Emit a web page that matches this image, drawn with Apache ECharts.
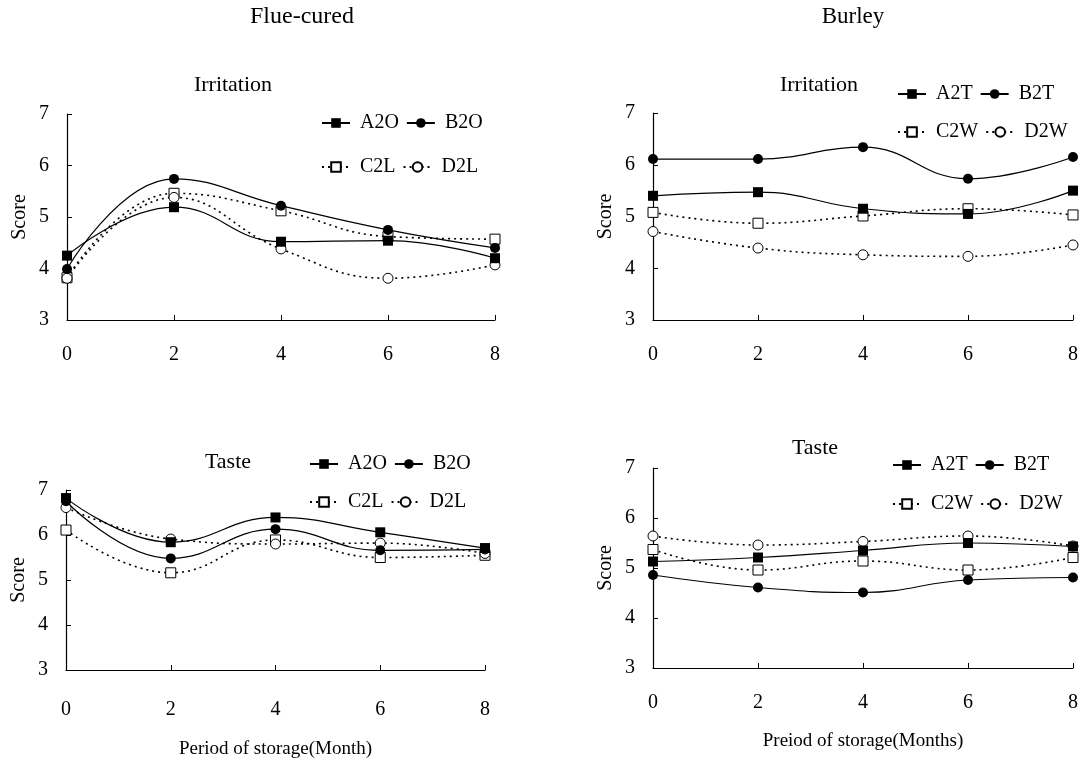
<!DOCTYPE html>
<html>
<head>
<meta charset="utf-8">
<script src="https://cdn.jsdelivr.net/npm/echarts@6/dist/echarts.min.js"></script>
<style>
  html, body { margin: 0; padding: 0; background: #fff; }
  #chart { width: 1090px; height: 760px; }
</style>
</head>
<body>
<div id="chart"></div>
<script>
const months = [0, 2, 4, 6, 8];

// Flue-cured, irritation
const flueIrrA2O = [4.25, 5.19, 4.52, 4.54, 4.2];
const flueIrrB2O = [3.99, 5.74, 5.22, 4.75, 4.4];
const flueIrrC2L = [3.82, 5.46, 5.12, 4.62, 4.57];
const flueIrrD2L = [3.81, 5.38, 4.38, 3.81, 4.07];
// Burley, irritation
const burIrrA2T = [5.4, 5.47, 5.15, 5.05, 5.5];
const burIrrB2T = [6.11, 6.11, 6.34, 5.73, 6.15];
const burIrrC2W = [5.08, 4.87, 5.01, 5.15, 5.03];
const burIrrD2W = [4.71, 4.39, 4.26, 4.23, 4.45];
// Flue-cured, taste
const flueTasteA2O = [6.82, 5.84, 6.39, 6.06, 5.71];
const flueTasteB2O = [6.75, 5.48, 6.13, 5.66, 5.68];
const flueTasteC2L = [6.11, 5.16, 5.89, 5.5, 5.55];
const flueTasteD2L = [6.61, 5.91, 5.8, 5.82, 5.59];
// Burley, taste
const burTasteA2T = [5.13, 5.21, 5.35, 5.5, 5.43];
const burTasteB2T = [4.86, 4.61, 4.51, 4.76, 4.81];
const burTasteC2W = [5.37, 4.96, 5.14, 4.96, 5.21];
const burTasteD2W = [5.64, 5.46, 5.53, 5.64, 5.44];

const font = "'Liberation Serif', 'Times New Roman', serif";

function pairs(vals) {
  return months.map((m, i) => [m, vals[i]]);
}

// solid lines for A/B, dotted for C/D; filled vs open markers
function mk(name, vals, idx, kind) {
  const solid = kind === "fillRect" || kind === "fillCircle";
  return {
    name: name,
    type: "line",
    xAxisIndex: idx,
    yAxisIndex: idx,
    data: pairs(vals),
    smooth: 0.45,
    symbol: kind === "fillRect" || kind === "openRect" ? "rect" : "circle",
    symbolSize: 10,
    showAllSymbol: true,
    lineStyle: { color: "#000", width: solid ? 1.2 : 1.6, type: solid ? "solid" : [2, 4] },
    itemStyle: solid
      ? { color: "#000" }
      : { color: "#fff", borderColor: "#000", borderWidth: 1 },
    emphasis: { disabled: true },
    z: solid ? 3 : 2,
  };
}

const grids = [
  { left: 67, top: 114, width: 428, height: 206 },
  { left: 653, top: 113, width: 420, height: 207 },
  { left: 66, top: 490, width: 419, height: 186 },
  { left: 653, top: 468, width: 420, height: 200 },
];
const xLabelMargin = [25, 25, 30, 25];
const xNames = ["", "", "Period of storage(Month)", "Preiod of storage(Months)"];
const xNameGap = [70, 70, 70, 64];

function xAxis(i) {
  return {
    type: "value",
    gridIndex: i,
    min: 0,
    max: 8,
    interval: 2,
    name: xNames[i],
    nameLocation: "middle",
    nameGap: xNameGap[i],
    nameTextStyle: { color: "#000", fontFamily: font, fontSize: 19 },
    axisLine: { show: true, lineStyle: { color: "#000", width: 1.2 } },
    axisTick: { show: true, inside: true, length: 5, lineStyle: { color: "#000" } },
    axisLabel: { color: "#000", fontFamily: font, fontSize: 20, margin: xLabelMargin[i] },
    splitLine: { show: false },
  };
}

function yAxis(i) {
  return {
    type: "value",
    gridIndex: i,
    min: 3,
    max: 7,
    interval: 1,
    name: "Score",
    nameLocation: "middle",
    nameGap: 37,
    nameTextStyle: { color: "#000", fontFamily: font, fontSize: 20 },
    axisLine: { show: true, lineStyle: { color: "#000", width: 1.2 } },
    axisTick: { show: true, inside: true, length: 5, lineStyle: { color: "#000" } },
    axisLabel: { color: "#000", fontFamily: font, fontSize: 20, margin: 18 },
    splitLine: { show: false },
  };
}

function legend(names, left, top) {
  return {
    data: names,
    left: left,
    top: top,
    orient: "horizontal",
    padding: 0,
    itemWidth: 28,
    itemHeight: 12,
    itemGap: 7,
    selectedMode: false,
    textStyle: { color: "#000", fontFamily: font, fontSize: 20, padding: [0, 0, 0, 5] },
  };
}

function title(text, left, top, size) {
  return {
    text: text,
    left: left,
    top: top,
    textAlign: "center",
    padding: 0,
    textStyle: { color: "#000", fontFamily: font, fontSize: size, fontWeight: "normal" },
  };
}

const chart = echarts.init(document.getElementById("chart"));
chart.setOption({
  backgroundColor: "#fff",
  animation: false,
  title: [
    title("Flue-cured", 302, 5, 24),
    title("Burley", 853, 5, 23),
    title("Irritation", 233, 74, 22),
    title("Irritation", 819, 74, 22),
    title("Taste", 228, 451, 22),
    title("Taste", 815, 437, 22),
  ],
  legend: [
    legend(["A2O", "B2O"], 321, 113),
    legend(["C2L", "D2L"], 321, 157),
    legend(["A2T", "B2T"], 897, 84),
    legend(["C2W", "D2W"], 897, 122),
    legend(["A2O", "B2O"], 309, 454),
    legend(["C2L", "D2L"], 309, 492),
    legend(["A2T", "B2T"], 892, 455),
    legend(["C2W", "D2W"], 892, 494),
  ],
  grid: grids,
  xAxis: [0, 1, 2, 3].map(xAxis),
  yAxis: [0, 1, 2, 3].map(yAxis),
  series: [
    mk("A2O", flueIrrA2O, 0, "fillRect"),
    mk("B2O", flueIrrB2O, 0, "fillCircle"),
    mk("C2L", flueIrrC2L, 0, "openRect"),
    mk("D2L", flueIrrD2L, 0, "openCircle"),
    mk("A2T", burIrrA2T, 1, "fillRect"),
    mk("B2T", burIrrB2T, 1, "fillCircle"),
    mk("C2W", burIrrC2W, 1, "openRect"),
    mk("D2W", burIrrD2W, 1, "openCircle"),
    mk("A2O", flueTasteA2O, 2, "fillRect"),
    mk("B2O", flueTasteB2O, 2, "fillCircle"),
    mk("C2L", flueTasteC2L, 2, "openRect"),
    mk("D2L", flueTasteD2L, 2, "openCircle"),
    mk("A2T", burTasteA2T, 3, "fillRect"),
    mk("B2T", burTasteB2T, 3, "fillCircle"),
    mk("C2W", burTasteC2W, 3, "openRect"),
    mk("D2W", burTasteD2W, 3, "openCircle"),
  ],
});
</script>
</body>
</html>
